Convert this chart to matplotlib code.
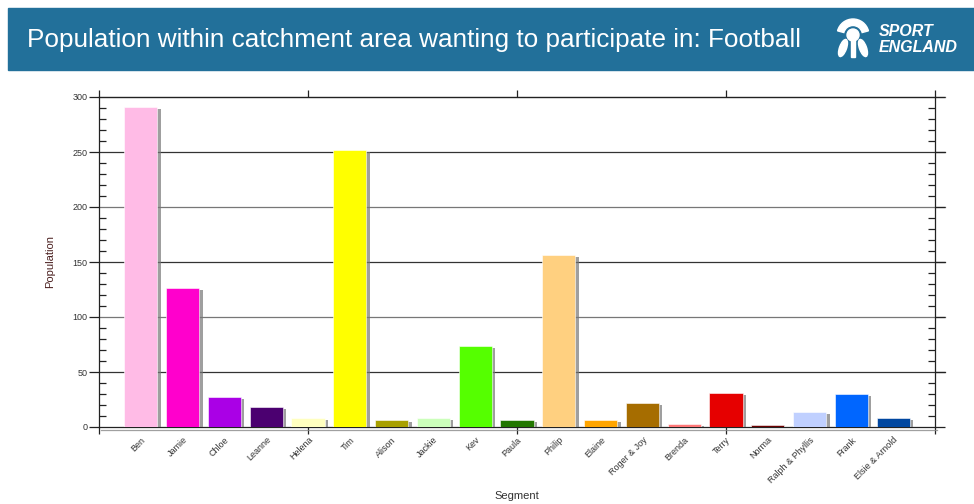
import matplotlib

matplotlib.use("Agg")
import matplotlib.pyplot as plt
import matplotlib.patheffects as pe
from matplotlib.patches import Rectangle, Wedge, Circle, Ellipse
import numpy as np

plt.rcParams["font.family"] = ["Liberation Sans", "DejaVu Sans"]

# data
SEGMENTS = ["Ben", "Jamie", "Chloe", "Leanne", "Helena", "Tim", "Alison", "Jackie",
            "Kev", "Paula", "Philip", "Elaine", "Roger & Joy", "Brenda", "Terry",
            "Norma", "Ralph & Phyllis", "Frank", "Elsie & Arnold"]
POPULATION = [291, 126, 27, 18, 8, 252, 6, 8, 74, 6, 156, 6, 22, 3, 31, 2, 14, 30, 8]
COLORS = ["#ffbbe6", "#ff00cc", "#aa00e6", "#4b0070", "#ffffc0", "#ffff00", "#a8a000",
          "#ccffbb", "#55ff00", "#227700", "#ffd080", "#ffa500", "#a66d00", "#ff7777",
          "#e60000", "#6b0000", "#c0d0ff", "#0066ff", "#0047a0"]
TITLE = "Population within catchment area wanting to participate in: Football"

W, H = 974, 504
fig = plt.figure(figsize=(W / 100, H / 100), dpi=100)

# header band (pixel coords overlay)
hdr = fig.add_axes([0, 0, 1, 1], zorder=0)
hdr.set_xlim(0, W)
hdr.set_ylim(H, 0)
hdr.axis("off")
hdr.add_patch(Rectangle((8, 8), W - 8, 62, color="#22709a"))
hdr.text(27, 40, TITLE, color="white", fontsize=18.8, va="center", ha="left")
# logo
hdr.add_patch(Wedge((853, 35), 16, 195, 345, width=6.5, color="white"))
hdr.add_patch(Circle((853, 35), 6, color="white"))
hdr.add_patch(Ellipse((843, 48), 7, 18, angle=20, color="white"))
hdr.add_patch(Ellipse((863, 48), 7, 18, angle=-20, color="white"))
hdr.add_patch(Rectangle((851.3, 38), 3.4, 19, color="white"))
hdr.text(879, 31, "SPORT", color="white", fontsize=11.5, fontweight="bold",
         style="italic", va="center", ha="left")
hdr.text(879, 47, "ENGLAND", color="white", fontsize=11.5, fontweight="bold",
         style="italic", va="center", ha="left")

ax = fig.add_axes([99 / W, 77 / H, 836 / W, 330 / H], zorder=1)
ax.patch.set_alpha(0)
x = np.arange(len(SEGMENTS))
bars = ax.bar(x, POPULATION, width=0.79, color=COLORS, edgecolor="white",
              linewidth=0.4, zorder=3)
for b in bars:
    b.set_path_effects([pe.SimplePatchShadow(offset=(2.5, -1.5), shadow_rgbFace="#777777",
                                             alpha=0.7), pe.Normal()])

ax.set_xlim(-1, 19)
ax.set_ylim(0, 300)

for v in range(50, 301, 50):
    ax.axhline(v, color="#333333" if v % 100 else "#777777", lw=0.9, zorder=1,
               xmin=0, xmax=1.012, clip_on=False)

for s in ax.spines.values():
    s.set_color("#222222")
    s.set_linewidth(0.9)
ax.spines["bottom"].set_path_effects([pe.SimpleLineShadow(offset=(1.5, -2), shadow_color="#888888",
                                                           alpha=0.8), pe.Normal()])

# y ticks
ax.set_yticks(range(0, 301, 50))
ax.set_yticks(range(0, 301, 10), minor=True)
ax.tick_params(axis="y", which="major", direction="out", length=7, width=0.9,
               color="#222222", labelsize=6.5, labelcolor="#333333", pad=1.5,
               right=True)
ax.tick_params(axis="y", which="minor", direction="in", length=5, width=0.9,
               color="#222222", left=True, right=True)
ax.tick_params(axis="y", which="major", right=True, labelright=False)

# x: unlabelled tick marks every 5 slots, category labels as minor ticks
ax.xaxis.remove_overlapping_locs = False
ax.set_xticks([-1, 4, 9, 14, 19])
ax.set_xticklabels([])
ax.tick_params(axis="x", which="major", direction="out", length=5, width=0.9,
               color="#222222", top=True)
ax.set_xticks(x, minor=True)
ax.set_xticklabels(SEGMENTS, minor=True, rotation=45, ha="right", rotation_mode="anchor",
                   fontsize=6.5, color="#333333")
ax.tick_params(axis="x", which="minor", length=0, pad=6)

ax.set_ylabel("Population", fontsize=8, color="#4a1f1f", labelpad=12)
ax.set_xlabel("Segment", fontsize=8, color="#333333")
ax.xaxis.set_label_coords(0.5, -0.193)

fig.savefig("out.png", dpi=100)
